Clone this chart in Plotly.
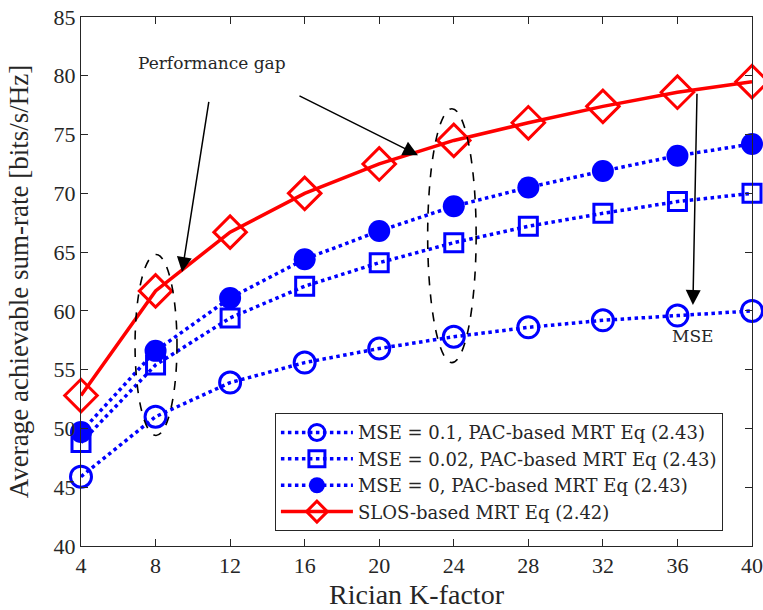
import plotly.graph_objects as go

# Rician K-factor values
k_factor = [4, 8, 12, 16, 20, 24, 28, 32, 36, 40]

# Average achievable sum-rate [bits/s/Hz]
rate_mse_01 = [45.9, 51.0, 53.9, 55.6, 56.8, 57.8, 58.6, 59.2, 59.6, 60.0]
rate_mse_002 = [48.8, 55.4, 59.4, 62.1, 64.1, 65.8, 67.2, 68.3, 69.3, 70.0]
rate_mse_0 = [49.7, 56.6, 61.1, 64.4, 66.8, 68.9, 70.5, 71.9, 73.2, 74.2]
rate_slos = [52.8, 61.7, 66.7, 70.0, 72.5, 74.5, 76.0, 77.4, 78.6, 79.5]

series_names = [
    "MSE = 0.1, PAC-based MRT Eq (2.43)",
    "MSE = 0.02, PAC-based MRT Eq (2.43)",
    "MSE = 0, PAC-based MRT Eq (2.43)",
    "SLOS-based MRT Eq (2.42)",
]

x_ticks = [4, 8, 12, 16, 20, 24, 28, 32, 36, 40]
y_ticks = [40, 45, 50, 55, 60, 65, 70, 75, 80, 85]

FONT = "Liberation Serif, DejaVu Serif, serif"
FONT_WIDE = "DejaVu Serif, Liberation Serif, serif"
BLUE = "#0000ff"
RED = "#ff0000"
AXIS = "#262626"
TEXT = "#262626"

fig = go.Figure()

fig.add_trace(go.Scatter(
    x=k_factor, y=rate_mse_01, name=series_names[0], mode="lines+markers",
    line=dict(color=BLUE, width=3.5, dash="dot"), cliponaxis=False,
    marker=dict(symbol="circle-open", size=21, color=BLUE, line=dict(width=3)),
))
fig.add_trace(go.Scatter(
    x=k_factor, y=rate_mse_002, name=series_names[1], mode="lines+markers",
    line=dict(color=BLUE, width=3.5, dash="dot"), cliponaxis=False,
    marker=dict(symbol="square-open", size=18, color=BLUE, line=dict(width=3)),
))
fig.add_trace(go.Scatter(
    x=k_factor, y=rate_mse_0, name=series_names[2], mode="lines+markers",
    line=dict(color=BLUE, width=3.5, dash="dot"), cliponaxis=False,
    marker=dict(symbol="circle", size=22, color=BLUE, line=dict(width=0)),
))
fig.add_trace(go.Scatter(
    x=k_factor, y=rate_slos, name=series_names[3], mode="lines+markers",
    line=dict(color=RED, width=3.5), cliponaxis=False,
    marker=dict(symbol="diamond-open", size=25, color=RED, line=dict(width=3)),
))

# Dashed ellipses marking the gap at K = 8 and K = 24
ellipses = [
    dict(x0=6.9, x1=9.15, y0=49.4, y1=64.8),
    dict(x0=22.6, x1=25.2, y0=55.6, y1=77.2),
]
for e in ellipses:
    fig.add_shape(type="circle", xref="x", yref="y", **e,
                  line=dict(color="black", width=1.6, dash="dash"))

# Arrows
arrows = [
    dict(ax=10.87, ay=77.9, x=9.42, y=63.3),
    dict(ax=15.64, ay=78.35, x=22.08, y=73.25),
    dict(ax=37.05, ay=78.6, x=36.83, y=60.5),
]
for a in arrows:
    fig.add_annotation(x=a["x"], y=a["y"], ax=a["ax"], ay=a["ay"],
                       xref="x", yref="y", axref="x", ayref="y",
                       text="", showarrow=True, arrowhead=2, arrowsize=2,
                       arrowwidth=1.5, arrowcolor="black")

fig.add_annotation(x=11.03, y=81.1, xref="x", yref="y", text="Performance gap",
                   showarrow=False, font=dict(family=FONT_WIDE, size=17, color=TEXT))
fig.add_annotation(x=36.83, y=57.9, xref="x", yref="y", text="MSE",
                   showarrow=False, font=dict(family=FONT_WIDE, size=17, color=TEXT))

axis_common = dict(
    showline=True, linecolor=AXIS, linewidth=1, mirror="ticks",
    ticks="inside", ticklen=7, tickcolor=AXIS, tickwidth=1,
    showgrid=False, zeroline=False, automargin=False,
    tickfont=dict(family=FONT, size=22, color=TEXT),
)

fig.update_layout(
    width=763, height=610,
    margin=dict(l=81, r=11, t=17, b=64),
    plot_bgcolor="white", paper_bgcolor="white",
    xaxis=dict(range=[4, 40], tickvals=x_ticks,
               title=dict(text="Rician K-factor", font=dict(family=FONT, size=28, color=TEXT),
                          standoff=8),
               **axis_common),
    yaxis=dict(range=[40, 85], tickvals=y_ticks,
               title=dict(text="Average achievable sum-rate [bits/s/Hz]",
                          font=dict(family=FONT, size=27, color=TEXT), standoff=17),
               **axis_common),
    legend=dict(x=0.289, y=0.251, xanchor="left", yanchor="top",
                bgcolor="white", bordercolor=AXIS, borderwidth=1,
                font=dict(family=FONT_WIDE, size=18, color=TEXT),
                itemwidth=72, tracegroupgap=0),
    showlegend=True,
)

fig.write_html("out.html")
